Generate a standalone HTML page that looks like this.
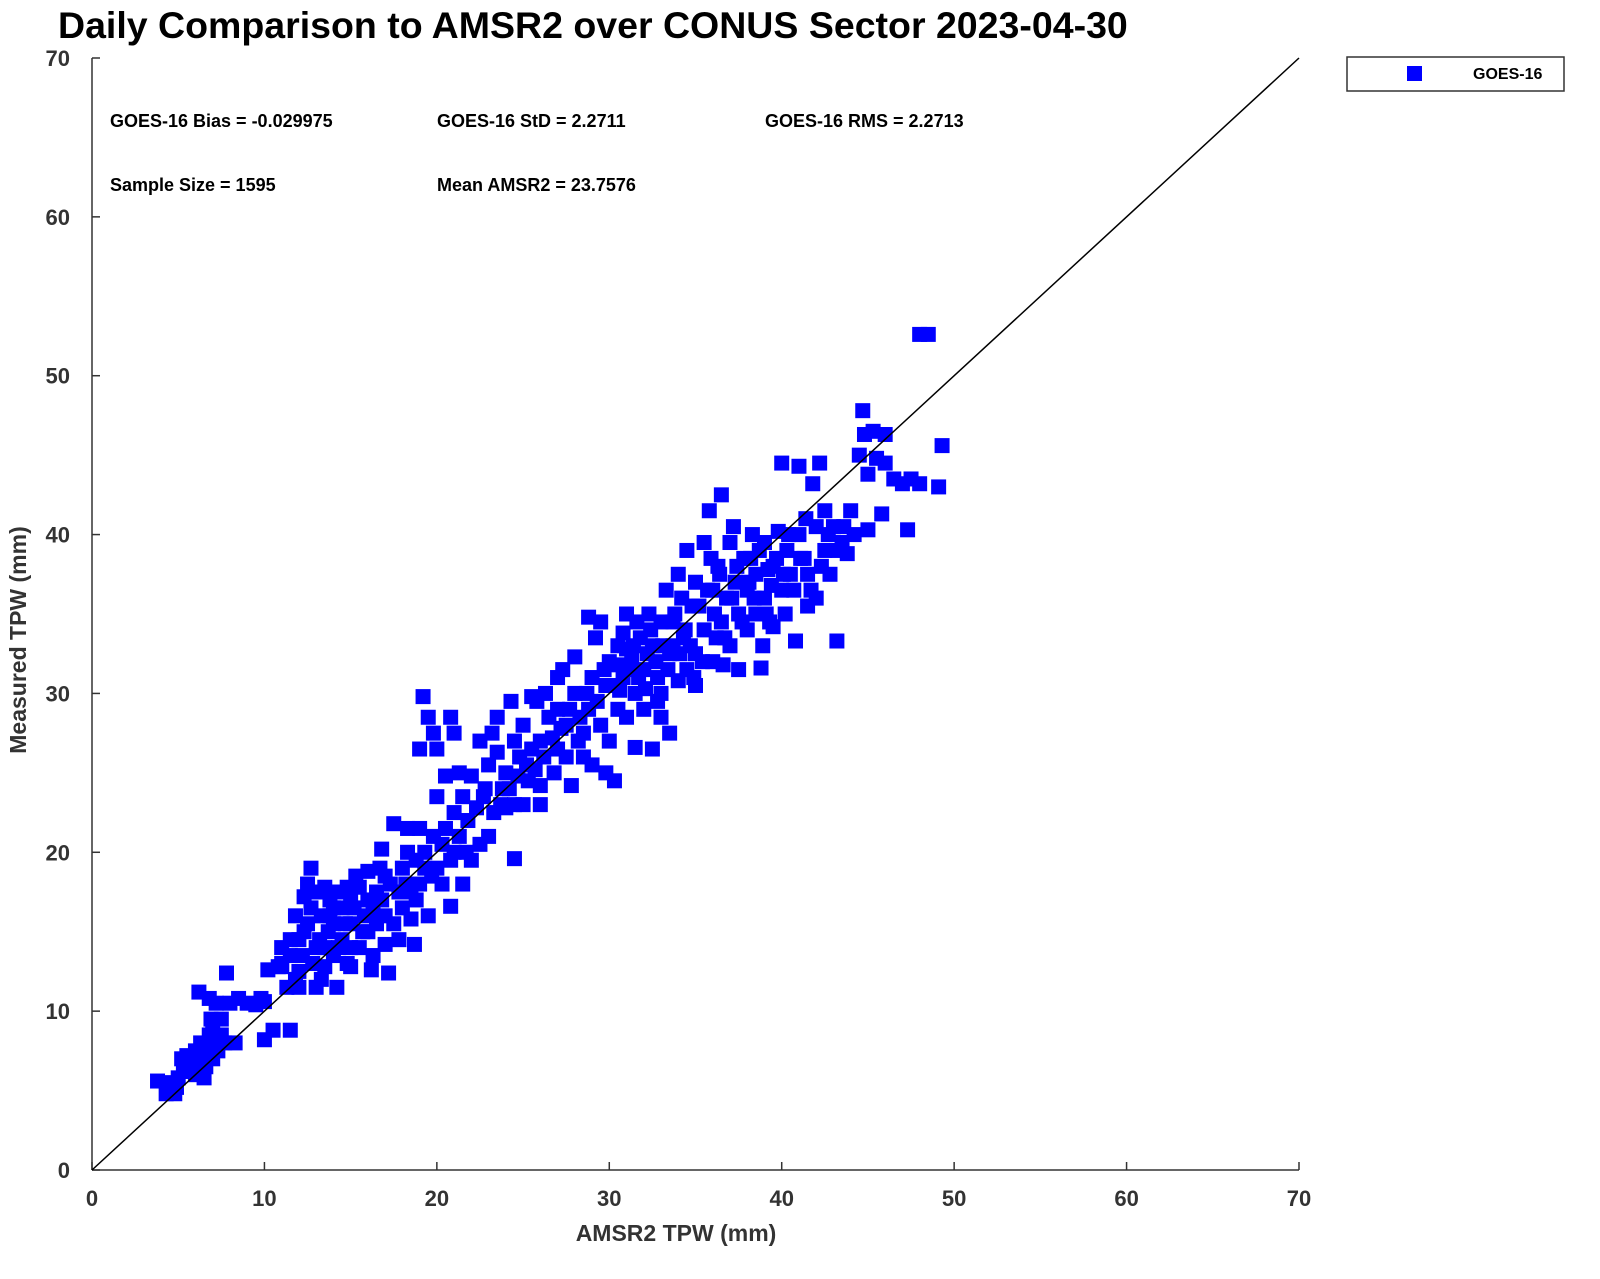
<!DOCTYPE html>
<html><head><meta charset="utf-8"><style>
body{margin:0;background:#fff;}
svg text{font-family:"Liberation Sans",Arial,sans-serif;font-weight:bold;}
</style></head><body>
<svg id="chart" width="1600" height="1274" xmlns="http://www.w3.org/2000/svg">
<rect width="1600" height="1274" fill="#fff"/>
<text x="58" y="38" font-size="37.5" fill="#000">Daily Comparison to AMSR2 over CONUS Sector 2023-04-30</text>
<g id="axes"></g>
<g id="points"></g>
<g font-size="18" fill="#000">
<text x="110" y="127">GOES-16 Bias = -0.029975</text>
<text x="437" y="127">GOES-16 StD = 2.2711</text>
<text x="765" y="127">GOES-16 RMS = 2.2713</text>
<text x="110" y="191">Sample Size = 1595</text>
<text x="437" y="191">Mean AMSR2 = 23.7576</text>
</g>
<g>
<rect x="1347" y="57" width="217" height="34" fill="#fff" stroke="#333" stroke-width="1.5"/>
<rect x="1407" y="66" width="15" height="15" fill="#0000ff"/>
<text x="1473" y="79" font-size="16" fill="#000">GOES-16</text>
</g>
<text x="676" y="1241" font-size="23" fill="#333" text-anchor="middle">AMSR2 TPW (mm)</text>
<text transform="translate(26,640) rotate(-90)" font-size="23" fill="#333" text-anchor="middle">Measured TPW (mm)</text>
</svg>
<script>
const xTicks=[0,10,20,30,40,50,60,70];
const yTicks=[0,10,20,30,40,50,60,70];
const amsr2=[3.8,4.3,4.8,5,5.5,5.5,6,6,6.3,6.5,6.8,7,7,7.3,7.5,6.8,6.2,7.2,7.8,8.3,8,5.2,4.5,6.6,7.5,
8.5,9,9.5,10,10.2,10,10.5,11,11,11.5,11.8,11.5,11.8,12,12,11.3,10.8,9.8,
12.5,12.7,12.5,12.8,13,13,13.3,13.5,13.5,13.8,14,14,14.2,14.5,14.5,14.8,15,15,15,15.3,15.5,15.8,16,16,16.3,16.2,12.2,13.2,14.3,
16.5,16.8,17,17,17.3,17.5,17.5,17.8,17.2,18,18,18.3,18.5,18.5,18.8,19,19,19.2,19.3,19.5,19.5,19.8,19.8,20,20,20,20.3,20.5,20.5,20.8,20.8,21,21,21,16.7,18.7,
21.5,21.5,21.8,22,22,22.3,22.5,22.5,22.8,23,23,23.3,23.5,23.5,23.8,24,24,24.3,24.5,24.5,24.8,25,25,25.3,25.5,25.5,21.3,23.2,
26,26,26.3,26.5,26.8,27,27,27.3,27.5,27.8,28,28,28.2,28.5,28.8,28.8,29,29,29.2,29.5,29.5,29.8,29.8,30,30,30.3,30.5,30.5,25.8,27,
30.8,30.8,31,31,31.3,31.5,31.5,31.8,32,32,32.3,32.5,32.5,32.8,33,33,33,33.3,33.5,33.5,33.8,34,34,34.3,34.5,34.5,34.8,35,35,35,31.2,32.2,33.7,34.2,
35.5,35.5,35.8,36,36,36.3,36.5,36.5,36.8,37,37,37.3,37.5,37.5,37.8,38,38,38.3,38.5,38.5,38.8,39,39,39.3,39.5,39.8,40,40,40.3,40.5,40.8,36.2,37.2,38.2,39.2,
41,41,41.5,41.8,42,42,42.2,42.5,42.5,42.8,43,43.2,43.5,44,44.5,44.7,44.8,45,45,45.3,45.5,45.8,46,46,46.5,47,47.3,47.5,48,48,48.5,49.1,49.3,41.3,43.8,
5.8,6.2,6.7,7.1,5.3,6.9,7.7,4.9,
11,11.5,12,12.3,12.7,13,13.3,13.7,14,14.3,14.7,15,15.2,15.7,16,16.5,16.8,17,13.5,14.8,12.3,13.8,15.5,16.3,
17.8,18.2,18.8,19.3,19.7,20.3,20.8,21.3,21.7,18.3,19,
22.7,23.7,24.2,24.7,25.2,25.7,26.2,26.7,27.2,27.7,28.3,28.7,29.3,29.7,30.2,24.5,26,27.5,28.5,
30.5,31,31.4,31.7,32.1,32.4,32.7,33.1,33.4,33.7,34.1,34.4,34.7,35.2,35.4,35.7,36.1,36.4,36.7,37.1,37.4,37.7,38.1,38.4,38.7,39.1,39.4,39.7,40.1,40.4,40.7,41.1,41.4,41.7,42.3,42.7,43.2,43.6,44.2,30.6,31.6,32.8,34.9,35.9,36.6,38.9,39.5,40.2,41.5];
const measured=[5.6,4.8,4.8,5.8,6.5,7.2,6,7.5,8,5.8,8.5,7,9,7.5,8.5,10.8,11.2,10.5,12.4,8,10.5,7,5.5,6.5,9.5,
10.8,10.5,10.4,10.6,12.6,8.2,8.8,12.8,14,8.8,12,13.5,16,11.5,14.5,11.5,12.8,10.8,
18,19,15.5,13,17.5,11.5,16,14,12.8,17,15.5,13.5,11.5,16.5,14.5,13,17,15.5,12.8,18.5,14,16,18.8,15,13.5,12.6,13.5,14.5,17.5,
17.5,20.2,16,14.2,18,15.5,21.8,14.5,12.4,19,16.5,21.5,17.5,15.8,19.5,26.5,18,29.8,20,16,28.5,27.5,21,23.5,19,26.5,18,24.8,21.5,28.5,16.6,27.5,20,22.5,19,14.2,
23.5,18,22,24.8,19.5,22.8,27,20.5,24,21,25.5,22.5,26.3,28.5,24,25,22.8,29.5,19.6,27,26,23,28,24.5,29.8,26.5,25,27.5,
27,23,30,28.5,25,29,26.5,31.5,28,24.2,32.3,30,27,26,34.8,29,31,25.5,33.5,34.5,28,30.5,25,32,27,24.5,29,33,29.5,31,
31,33.8,35,28.5,32.2,30,26.6,33.5,31.5,29,35,33,26.5,31,34.5,30,28.5,36.5,32.5,27.5,35,30.8,37.5,33.5,39,31.5,35.5,37,32.5,30.5,31.5,32.5,33,36,
39.5,34,41.5,36.5,32,38,42.5,34.5,36,39.5,33,37,35,31.5,38.5,36.5,34,40,37.5,35,31.6,39.5,36,34.5,38,40.2,44.5,36.5,39,37.5,33.3,33.5,40.5,38.5,37.8,
44.3,40,37.5,43.2,40.5,36,44.5,39,41.5,37.5,40.5,33.3,39.5,41.5,45,47.8,46.3,40.3,43.8,46.5,44.8,41.3,46.3,44.5,43.5,43.2,40.3,43.5,43.2,52.6,52.6,43,45.6,38.5,38.8,
6.8,7,7.8,8.2,6.2,9.5,8,5.2,
13,14.5,12.5,15,16.5,14,12,15,16.5,14,15.5,14,16.5,15,17,15.5,17,18.5,17.8,17.8,17.2,16,17.8,16.3,
17.5,18,17,19,18.5,20.5,19.5,21,20,20,21.5,
23.5,23,24,24.8,25.5,25.2,26,27.2,27.8,29,28.5,30,29.5,31.5,30.5,23,24.2,26,27.5,
31.8,32.8,33,31,30.3,34,32,33,31.5,34.5,32.5,34,33,35.5,32,36.5,35,37.5,33.5,36,38,34.5,37,36,39,35,36.8,38.5,37.5,40,36.5,38.5,41,36.5,38,40,39,40.5,40,30.2,34.5,29.5,31,38.5,31.8,33,34.2,35,35.5];
const X0=92,X1=1299,Y0=1170,Y1=58;
const sx=v=>X0+(v-0)/70*(X1-X0);
const sy=v=>Y0-(v-0)/70*(Y0-Y1);
const NS='http://www.w3.org/2000/svg';
const ax=document.getElementById('axes');
function mk(tag,attrs,parent){const e=document.createElementNS(NS,tag);for(const k in attrs)e.setAttribute(k,attrs[k]);parent.appendChild(e);return e;}
const xl=mk('line',{x1:X0,y1:Y0,x2:X1,y2:Y0,stroke:'#333','stroke-width':1.5},ax);


const yl=mk('line',{x1:X0,y1:Y0,x2:X0,y2:Y1,stroke:'#333','stroke-width':1.5},ax);


xTicks.forEach(t=>{
  mk('line',{x1:sx(t),y1:Y0,x2:sx(t),y2:Y0-8,stroke:'#333','stroke-width':1.5},ax);
  const tx=mk('text',{x:sx(t),y:Y0+36,'font-size':22,fill:'#333','text-anchor':'middle'},ax);
  tx.textContent=t;
  
  
});
yTicks.forEach(t=>{
  mk('line',{x1:X0,y1:sy(t),x2:X0+8,y2:sy(t),stroke:'#333','stroke-width':1.5},ax);
  const tx=mk('text',{x:X0-22,y:sy(t)+8,'font-size':22,fill:'#333','text-anchor':'end'},ax);
  tx.textContent=t;
  
  
});
const pg=document.getElementById('points');
for(let i=0;i<amsr2.length;i++){
  const r=mk('rect',{x:sx(amsr2[i])-7.5,y:sy(measured[i])-7.5,width:15,height:15,fill:'#0000ff'},pg);
  
  
}
const ol=mk('line',{x1:sx(0),y1:sy(0),x2:sx(70),y2:sy(70),stroke:'#000','stroke-width':1.5},document.getElementById('chart'));


</script>
</body></html>
